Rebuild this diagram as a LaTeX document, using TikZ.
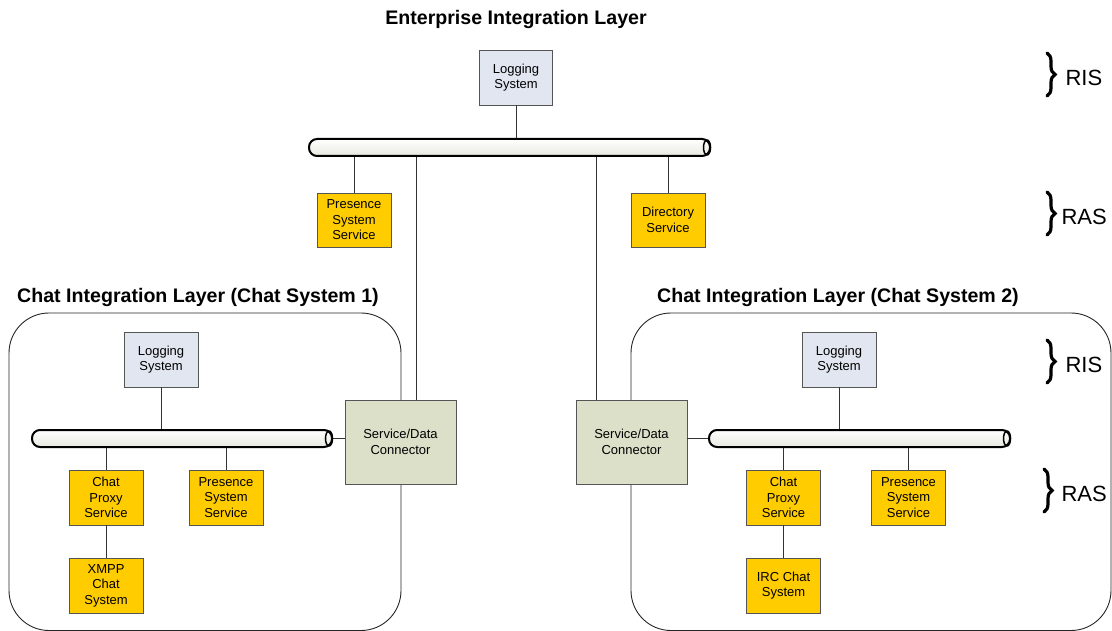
\documentclass[tikz,border=0pt]{standalone}
\usepackage{fontspec}
\setmainfont{Liberation Sans}
\usetikzlibrary{decorations.pathreplacing}
\definecolor{logfill}{HTML}{E1E6F0}
\definecolor{svcfill}{HTML}{FFCC00}
\definecolor{connfill}{HTML}{DDE0C9}
\definecolor{busfill}{HTML}{F2F3EA}
\definecolor{edge}{HTML}{555555}
\tikzset{
  box/.style={draw=edge, line width=0.9pt, align=center, inner sep=0pt,
    font=\fontsize{13}{15.5}\selectfont, minimum width=74pt, minimum height=55pt},
  logbox/.style={box, fill=logfill},
  svcbox/.style={box, fill=svcfill},
  connbox/.style={box, fill=connfill, minimum width=111pt, minimum height=84pt},
  bus/.style={draw=black, line width=2pt, rounded corners=8pt, minimum height=17pt,
    inner sep=0pt, top color=white, bottom color=busfill!85!gray!60!busfill},
  busend/.style={draw=black, line width=1.5pt},
  wire/.style={draw=black!80, line width=0.8pt},
  layer/.style={draw=black!85, line width=0.9pt, rounded corners=40pt},
  title/.style={font=\bfseries\fontsize{19.6}{23}\selectfont},
  tier/.style={font=\fontsize{22}{26}\selectfont, anchor=west},
  tierbrace/.style={decorate, decoration={brace, amplitude=8pt, aspect=0.5},
    line width=3.2pt, line cap=round}
}
\begin{document}
\begin{tikzpicture}[x=1pt, y=-1pt]
\useasboundingbox (0,0) rectangle (1112,631);

% layer frames
\draw[layer] (9,313) rectangle (401,630.5);
\draw[layer] (631,313) rectangle (1111,630.5);

% titles
\node[title] (ttop) at (516,19) {Enterprise Integration Layer};
\node[title] (tleft) at (198,297) {Chat Integration Layer (Chat System 1)};
\node[title] (tright) at (838,297) {Chat Integration Layer (Chat System 2)};

% enterprise layer
\node[logbox, minimum width=73pt] (elog) at (516,77.5) {Logging\\System};
\node[bus, minimum width=401pt] (ebus) at (509.5,147.5) {};
\draw[busend] ([xshift=-4pt]ebus.east) ellipse (3.5 and 7.5);
\node[svcbox, minimum height=54pt] (epres) at (354,220) {Presence\\System\\Service};
\node[svcbox, minimum height=54pt] (edir) at (668,220) {Directory\\Service};

% chat system 1
\node[logbox] (llog) at (161,359.5) {Logging\\System};
\node[bus, minimum width=300pt] (lbus) at (182,438.5) {};
\draw[busend] ([xshift=-4pt]lbus.east) ellipse (3.5 and 7.5);
\node[svcbox] (lproxy) at (106,497.5) {Chat\\Proxy\\Service};
\node[svcbox] (lpres) at (226,497.5) {Presence\\System\\Service};
\node[svcbox] (lxmpp) at (106,585.5) {XMPP\\Chat\\System};
\node[connbox] (lconn) at (400.5,442) {Service/Data\\Connector};

% chat system 2
\node[logbox] (rlog) at (839,359.5) {Logging\\System};
\node[bus, minimum width=301pt] (rbus) at (859.5,438.5) {};
\draw[busend] ([xshift=-4pt]rbus.east) ellipse (3.5 and 7.5);
\node[svcbox] (rproxy) at (783.5,497.5) {Chat\\Proxy\\Service};
\node[svcbox] (rpres) at (908.5,497.5) {Presence\\System\\Service};
\node[svcbox] (rirc) at (783.5,585.5) {IRC Chat\\System};
\node[connbox] (rconn) at (631.5,442) {Service/Data\\Connector};

% wiring
\draw[wire] (elog.south) -- (elog.south |- ebus.north);
\draw[wire] (ebus.south -| epres.north) -- (epres.north);
\draw[wire] (ebus.south -| edir.north) -- (edir.north);
\draw[wire] ([xshift=15.5pt]lconn.north) -- ([xshift=15.5pt]lconn.north |- ebus.south);
\draw[wire] ([xshift=-35.5pt]rconn.north) -- ([xshift=-35.5pt]rconn.north |- ebus.south);

\draw[wire] (llog.south) -- (llog.south |- lbus.north);
\draw[wire] (lbus.south -| lproxy.north) -- (lproxy.north);
\draw[wire] (lbus.south -| lpres.north) -- (lpres.north);
\draw[wire] (lproxy.south) -- (lxmpp.north);
\draw[wire] (lbus.east) -- (lbus.east -| lconn.west);

\draw[wire] (rlog.south) -- (rlog.south |- rbus.north);
\draw[wire] (rbus.south -| rproxy.north) -- (rproxy.north);
\draw[wire] (rbus.south -| rpres.north) -- (rpres.north);
\draw[wire] (rproxy.south) -- (rirc.north);
\draw[wire] (rconn.east |- rbus.west) -- (rbus.west);

% tier markers
\draw[tierbrace] (1047,53) -- (1047,96);
\node[tier] (ris1) at (1062,78) {RIS};
\draw[tierbrace] (1047,192) -- (1047,235);
\node[tier] (ras1) at (1058,217) {RAS};
\draw[tierbrace] (1047,340) -- (1047,383);
\node[tier] (ris2) at (1062,365) {RIS};
\draw[tierbrace] (1044,469) -- (1044,512);
\node[tier] (ras2) at (1058,494) {RAS};
\end{tikzpicture}
\end{document}
